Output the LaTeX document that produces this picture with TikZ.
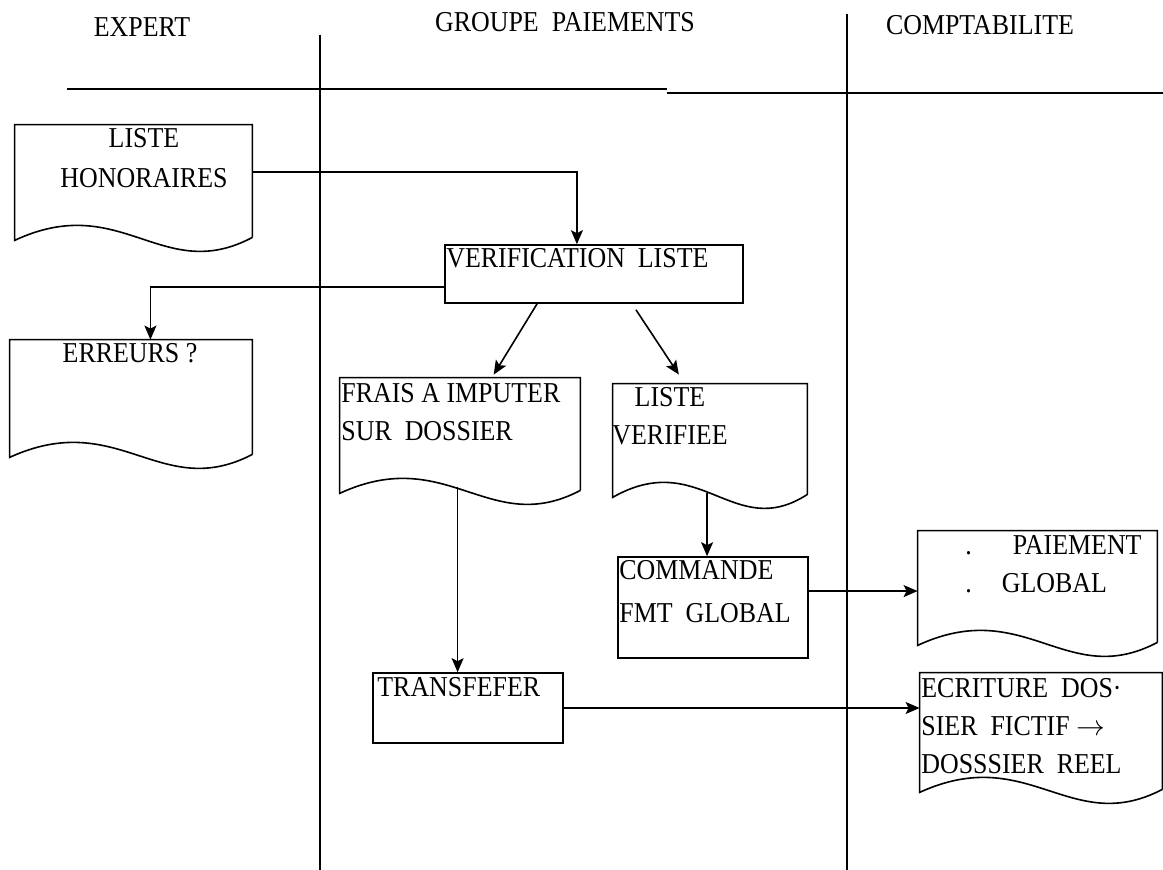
\documentclass[tikz,border=0pt]{standalone}
\usepackage{fontspec}
\setmainfont[FakeStretch=0.9]{Liberation Serif}
\usetikzlibrary{arrows.meta,calc,fit}

\tikzset{
  lbl/.style={inner sep=0pt, font=\fontsize{14.4}{19}\selectfont},
  docbox/.style={inner sep=0pt, draw=none},
  procbox/.style={inner sep=0pt, draw, line width=0.8pt},
  flow/.style={line width=0.8pt, -{Stealth[length=7pt,width=6pt,inset=1.5pt]}},
}

% document symbol: three straight sides and a wavy bottom
\newcommand{\docoutline}[1]{%
  \draw[line width=0.8pt] ($(#1.south east)+(0,-3)$) -- (#1.north east) -- (#1.north west) -- (#1.south west)
    .. controls ($(#1.south west)!0.45!(#1.south east)+(0,-50)$) and ($(#1.south west)!0.62!(#1.south east)+(0,45)$) .. ($(#1.south east)+(0,-3)$);}

\begin{document}
\begin{tikzpicture}[x=0.5pt, y=-0.5pt]
  \useasboundingbox (0,0) rectangle (1163,870);

  % lanes
  \node[lbl, anchor=north] (expert) at (142,17) {EXPERT};
  \node[lbl, anchor=north] (groupe) at (565,12) {GROUPE~~PAIEMENTS};
  \node[lbl, anchor=north] (compta) at (980,15) {COMPTABILITE};
  \draw[line width=0.8pt] (320,35) -- (320,870);
  \draw[line width=0.8pt] (847,14) -- (847,870);
  \draw[line width=0.8pt] (67,89) -- (667,89);
  \draw[line width=0.8pt] (667,93) -- (1163,93);

  % boxes
  \node[docbox, fit={(15,125) (252,240)}] (honor) {};
  \node[docbox, fit={(10,340) (252,457)}] (erreurs) {};
  \node[procbox, fit={(445,245) (743,303)}] (verif) {};
  \node[docbox, fit={(340,378) (580,493)}] (frais) {};
  \node[docbox, fit={(613,384) (807,497)}] (listev) {};
  \node[procbox, fit={(618,557) (808,658)}] (cmdpmt) {};
  \node[docbox, fit={(918,531) (1157,645)}] (paiem) {};
  \node[procbox, fit={(373,673) (563,743)}] (transf) {};
  \node[docbox, fit={(920,673) (1162,792)}] (ecrit) {};
  \foreach \d in {honor,erreurs,frais,listev,paiem,ecrit} {\docoutline{\d}}

  % texts
  \node[lbl, align=center, anchor=north] (honortxt) at (144,128) {LISTE\\[1pt]HONORAIRES};
  \node[lbl, anchor=north] (errtxt) at (130,343) {ERREURS ?};
  \node[lbl, anchor=north west] (veriftxt) at (446,248) {VERIFICATION~~LISTE};
  \node[lbl, align=left, anchor=north west] (fraistxt) at (341,383) {FRAIS A IMPUTER\\SUR~~DOSSIER};
  \node[lbl, align=center, anchor=north] (listevtxt) at (670,387) {LISTE\\VERIFIEE};
  \node[lbl, align=left, anchor=north west] (cmdtxt) at (619,560) {COMMANDE\\[2.5pt]FMT~~GLOBAL};
  \node[lbl, align=left, anchor=north west] (paiemtxt) at (965,535) {.\hspace{20.5pt}PAIEMENT\\.\hspace{15pt}GLOBAL};
  \node[lbl, anchor=north west] (transftxt) at (377,677) {TRANSFEFER};
  \node[lbl, align=left, anchor=north west] (ecrittxt) at (921,678) {ECRITURE~~DOS·\\SIER~~FICTIF $\rightarrow$\\DOSSSIER~~REEL};

  % connectors
  \coordinate (honorout) at ($(honor.north east)!0.41!(honor.south east)$);
  \coordinate (verifin) at ($(verif.north west)!0.443!(verif.north east)$);
  \draw[flow] (honorout) -| (verifin);
  \coordinate (verifleft) at ($(verif.north west)!0.72!(verif.south west)$);
  \coordinate (errin) at ($(erreurs.north west)!0.58!(erreurs.north east)$);
  \draw[flow] (verifleft) -| (errin);
  \draw[flow] ($(verif.south west)!0.31!(verif.south east)$) -- ($(frais.north west)!0.64!(frais.north east)+(0,-3)$);
  \draw[flow] ($(verif.south west)!0.64!(verif.south east)+(0,6)$) -- ($(listev.north west)!0.34!(listev.north east)+(0,-9)$);
  \coordinate (fraisout) at ($(frais.south west)!0.49!(frais.south east)+(0,-6)$);
  \draw[flow] (fraisout) -- (fraisout |- transf.north);
  \coordinate (listevout) at ($(listev.south west)!0.485!(listev.south east)+(0,-4)$);
  \draw[flow] (listevout) -- (listevout |- cmdpmt.north);
  \coordinate (cmdout) at ($(cmdpmt.north east)!0.34!(cmdpmt.south east)$);
  \draw[flow] (cmdout) -- (cmdout -| paiem.west);
  \draw[flow] (transf.east) -- (transf.east -| ecrit.west);
\end{tikzpicture}
\end{document}
